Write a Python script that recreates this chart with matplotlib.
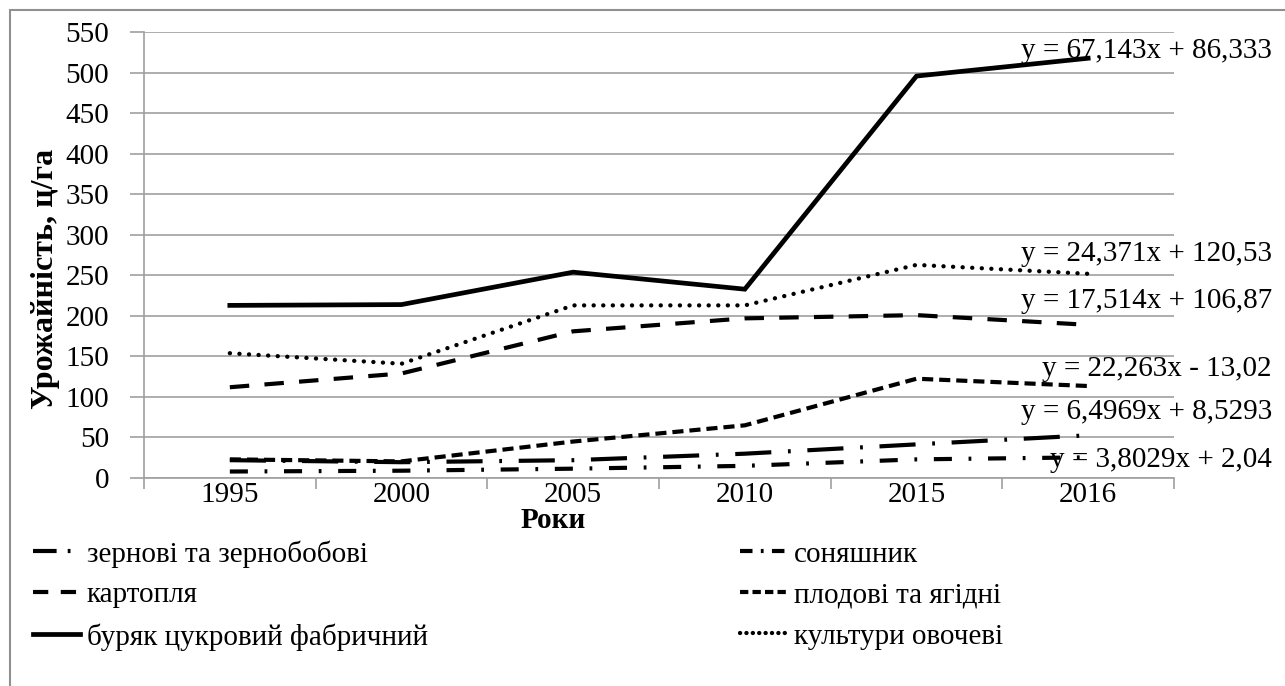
import matplotlib
matplotlib.use("Agg")
import matplotlib.pyplot as plt
from matplotlib.patches import Rectangle
from matplotlib.lines import Line2D
import matplotlib.transforms as mtransforms

plt.rcParams['font.family'] = ['Liberation Serif', 'DejaVu Serif']
plt.rcParams['lines.scale_dashes'] = False

years = ['1995', '2000', '2005', '2010', '2015', '2016']
zernovi = [22, 19.5, 22, 30, 41.5, 52.7]
soniashnyk = [8, 9, 11.5, 15, 23, 25.5]
kartoplia = [112, 129, 181, 197, 201, 189]
plodovi = [23, 20.5, 45, 65, 122.5, 113.5]
buriak = [213, 214, 254, 233, 496, 518]
ovochevi = [154, 141, 213, 213, 263, 252]

names = ['зернові та зернобобові', 'соняшник', 'картопля',
         'плодові та ягідні', 'буряк цукровий фабричний', 'культури овочеві']
equations = ['y = 67,143x + 86,333', 'y = 24,371x + 120,53', 'y = 17,514x + 106,87',
             'y = 22,263x - 13,02', 'y = 6,4969x + 8,5293', 'y = 3,8029x + 2,04']
eq_y = [527, 277, 219, 135, 81, 22]

yticks = list(range(0, 551, 50))

W, H = 1285, 686
FS = 21
fig = plt.figure(figsize=(W / 100, H / 100), dpi=100)
ax = fig.add_axes([144 / W, 1 - 478 / H, (1174 - 144) / W, (478 - 32.3) / H])

x = list(range(len(years)))
styles = {
    'zernovi': dict(ls=(0, (26, 12, 2, 12)), lw=3.0, leg=(0, (17, 8, 2, 20))),
    'soniashnyk': dict(ls=(0, (13, 12, 2, 12)), lw=3.0, leg=(0, (9, 6, 2, 6))),
    'kartoplia': dict(ls=(0, (14, 11)), lw=3.0, leg=(0, (11, 9))),
    'plodovi': dict(ls=(0, (8, 4.3)), lw=3.0, leg=(0, (6, 3))),
    'buriak': dict(ls='-', lw=3.4, leg='-'),
    'ovochevi': dict(ls=(0, (0.1, 6.8)), lw=3.1, leg=(0, (0.1, 4.5))),
}
series = [('zernovi', zernovi), ('soniashnyk', soniashnyk), ('kartoplia', kartoplia),
          ('plodovi', plodovi), ('buriak', buriak), ('ovochevi', ovochevi)]
handles = []
for (key, vals), nm in zip(series, names):
    st = styles[key]
    cap = 'round' if key == 'ovochevi' else 'butt'
    ax.plot(x, vals, color='black', linestyle=st['ls'], lw=st['lw'],
            dash_capstyle=cap, solid_joinstyle='miter', label=nm, zorder=3)
    handles.append(Line2D([], [], color='black', linestyle=st['leg'], lw=st['lw'],
                          dash_capstyle=cap))

ax.set_xlim(-0.5, len(years) - 0.5)
ax.set_ylim(0, 550)
ax.set_yticks(yticks)
ax.set_xticks(x)
ax.set_xticklabels(years)
ax.set_xticks([i - 0.5 for i in range(len(years) + 1)], minor=True)
ax.tick_params(axis='x', which='major', length=0, labelsize=FS, pad=3)
ax.tick_params(axis='x', which='minor', length=8, color='#a0a0a0', width=1.2, direction='out')
ax.tick_params(axis='y', which='major', length=10, color='#a0a0a0', width=1.2, labelsize=FS, pad=15)
ax.grid(axis='y', color='#a0a0a0', lw=1.2)
ax.set_axisbelow(True)
for s in ['top', 'right']:
    ax.spines[s].set_visible(False)
for s in ['left', 'bottom']:
    ax.spines[s].set_color('#a0a0a0')
    ax.spines[s].set_linewidth(1.2)

fig.text(46 / W, 1 - 279 / H, 'Урожайність, ц/га', rotation=90, ha='center', va='center',
         fontsize=23, fontweight='bold')
fig.text(553 / W, 1 - 520 / H, 'Роки', ha='center', va='center', fontsize=FS, fontweight='bold')

trans = mtransforms.blended_transform_factory(ax.transAxes, ax.transData)
for eq, yy in zip(equations, eq_y):
    ax.text(1.095, yy, eq, transform=trans, ha='right', va='center', fontsize=FS,
            clip_on=False, zorder=4)

order = [0, 2, 4, 1, 3, 5]
leg = fig.legend([handles[i] for i in order], [names[i] for i in order],
                 ncol=2, loc='upper left', bbox_to_anchor=(33 / W, 1 - 540 / H),
                 frameon=False, fontsize=FS, handlelength=1.6, handletextpad=0.25,
                 columnspacing=10.7, labelspacing=0.5, borderpad=0, borderaxespad=0)

fig.patches.append(Rectangle((10 / W, -0.1), 1.2, 1 - 10 / H + 0.1, transform=fig.transFigure,
                             fill=False, edgecolor='#909090', lw=1.5))

fig.savefig('out.png', dpi=100, facecolor='white')
